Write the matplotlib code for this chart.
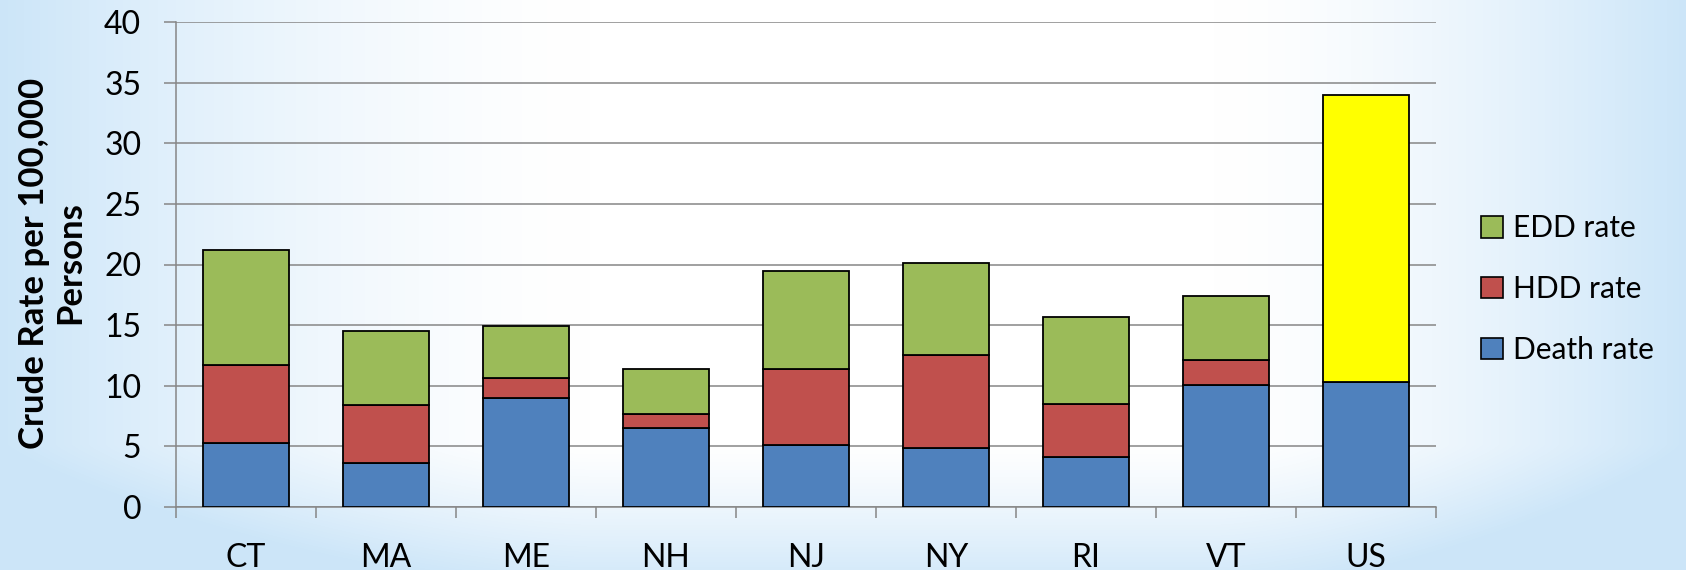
"""
Stacked bar chart of crude rates per 100,000 persons by state.
"""

import numpy as np
import matplotlib
matplotlib.use('Agg')
import matplotlib.pyplot as plt
from matplotlib.patches import Patch

# Data
states = ['CT', 'MA', 'ME', 'NH', 'NJ', 'NY', 'RI', 'VT', 'US']
death_rate = [5.3, 3.6, 9.0, 6.5, 5.1, 4.9, 4.1, 10.1, 10.3]
hdd_rate = [6.4, 4.8, 1.6, 1.2, 6.3, 7.6, 4.4, 2.0, 0.0]
edd_rate = [9.5, 6.1, 4.3, 3.7, 8.1, 7.6, 7.2, 5.3, 23.7]

yticks = [0, 5, 10, 15, 20, 25, 30, 35, 40]
legend_labels = ['EDD rate', 'HDD rate', 'Death rate']

BLUE = '#4f81bd'
RED = '#c0504d'
GREEN = '#9bbb59'
YELLOW = '#ffff00'
GRID = '#868686'

plt.rcParams['font.family'] = ['Lato', 'DejaVu Sans']

fig = plt.figure(figsize=(16.86, 5.70), dpi=100)

# Slide-like background: light blue at the sides and bottom, white centre
h, w = 570, 1686
xx = np.linspace(0, 1, w)[None, :]
yy = np.linspace(0, 1, h)[:, None]
side = np.clip(1 - xx / 0.35, 0, 1) ** 1.5 + np.clip((xx - 0.72) / 0.28, 0, 1) ** 1.5
bottom = np.clip((yy - 0.78) / 0.22, 0, 1) ** 1.2 * 0.8
amt = np.clip(side + bottom, 0, 1)
light = np.array([1.0, 1.0, 1.0])
blue = np.array([0.80, 0.90, 0.975])
bg = light[None, None, :] * (1 - amt[..., None]) + blue[None, None, :] * amt[..., None]
bg_ax = fig.add_axes([0, 0, 1, 1], zorder=-10)
bg_ax.imshow(bg, aspect='auto', extent=[0, 1, 0, 1])
bg_ax.axis('off')

ax = fig.add_axes([176 / 1686, 1 - 507 / 570, (1436 - 176) / 1686, (507 - 22) / 570])
ax.patch.set_alpha(0)

x = np.arange(len(states))
width = 0.62
edd_colors = [YELLOW if s == 'US' else GREEN for s in states]
bottom_hdd = np.array(death_rate)
bottom_edd = bottom_hdd + np.array(hdd_rate)

kw = dict(width=width, edgecolor='black', linewidth=1.3, zorder=3)
ax.bar(x, death_rate, color=BLUE, **kw)
ax.bar(x, hdd_rate, bottom=bottom_hdd, color=RED, **kw)
ax.bar(x, edd_rate, bottom=bottom_edd, color=edd_colors, **kw)

ax.set_xlim(-0.5, len(states) - 0.5)
ax.set_ylim(0, 40)
ax.set_yticks(yticks)
ax.set_yticklabels([str(t) for t in yticks], fontsize=23)
ax.set_xticks(x)
ax.set_xticklabels(states, fontsize=23)
ax.set_xticks(np.arange(len(states) + 1) - 0.5, minor=True)

ax.grid(True, axis='y', color=GRID, linewidth=1.1, zorder=0)
ax.tick_params(axis='y', length=8.5, width=1.1, color=GRID, pad=16.5)
ax.tick_params(axis='x', which='major', length=0, pad=26)
ax.tick_params(axis='x', which='minor', length=8, width=1.1, color=GRID)

for side_name in ['top', 'right']:
    ax.spines[side_name].set_visible(False)
for side_name in ['left', 'bottom']:
    ax.spines[side_name].set_color(GRID)
    ax.spines[side_name].set_linewidth(1.1)

fig.text(52 / 1686, 1 - 263 / 570, 'Crude Rate per 100,000\nPersons',
         rotation=90, ha='center', va='center', fontsize=25, fontweight='bold',
         linespacing=1.15)

# Legend
handles = [Patch(facecolor=GREEN, edgecolor='black', linewidth=1.2),
           Patch(facecolor=RED, edgecolor='black', linewidth=1.2),
           Patch(facecolor=BLUE, edgecolor='black', linewidth=1.2)]
fig.legend(handles, legend_labels, loc='center left',
           bbox_to_anchor=(1481 / 1686, 1 - 289 / 570), frameon=False,
           fontsize=21.5, handlelength=0.74, handleheight=0.74,
           handletextpad=0.33, labelspacing=1.1, borderaxespad=0,
           borderpad=0)

fig.savefig('out.png', dpi=100)
